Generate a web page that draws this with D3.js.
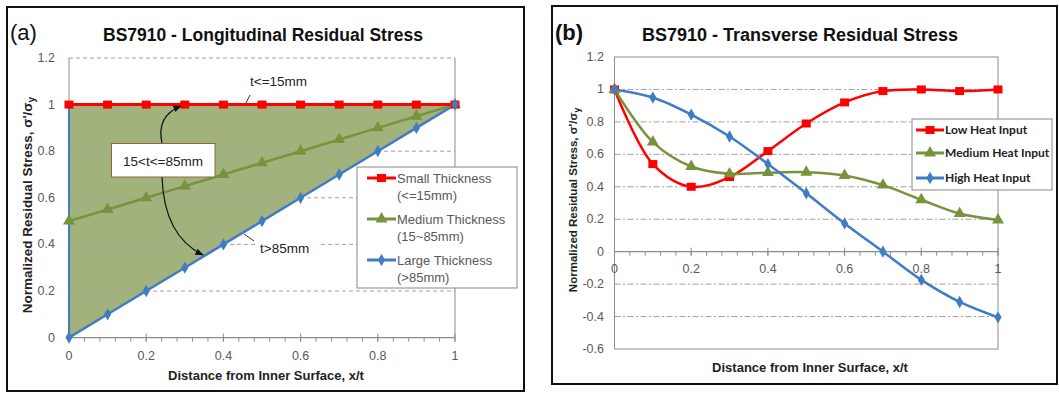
<!DOCTYPE html>
<html><head><meta charset="utf-8">
<script src="https://cdn.jsdelivr.net/npm/d3@7/dist/d3.min.js"></script>
<style>
body{margin:0;background:#fff;}
svg{display:block;font-family:"Liberation Sans",Arial,sans-serif;}
</style></head>
<body><svg id="c" width="1059" height="393"></svg>
<script>
// ---------- DATA ----------
const xValues = [0,0.1,0.2,0.3,0.4,0.5,0.6,0.7,0.8,0.9,1.0];
// Panel (a) longitudinal
const smallThickness  = [1,1,1,1,1,1,1,1,1,1,1];
const mediumThickness = [0.5,0.55,0.6,0.65,0.7,0.75,0.8,0.85,0.9,0.95,1.0];
const largeThickness  = [0,0.1,0.2,0.3,0.4,0.5,0.6,0.7,0.8,0.9,1.0];
// Panel (b) transverse
const lowHeat    = [1.0,0.54,0.40,0.46,0.62,0.79,0.92,0.99,1.0,0.99,1.0];
const mediumHeat = [1.0,0.675,0.525,0.48,0.487,0.49,0.47,0.41,0.32,0.235,0.195];
const highHeat   = [1.0,0.95,0.845,0.71,0.54,0.36,0.174,0.0,-0.174,-0.31,-0.405];
// Ticks
const xTickLabels = ["0","0.2","0.4","0.6","0.8","1"];
const xTickValues = [0,0.2,0.4,0.6,0.8,1];
const yTickLabelsA = ["0","0.2","0.4","0.6","0.8","1","1.2"];
const yTickValuesA = [0,0.2,0.4,0.6,0.8,1,1.2];
const yTickLabelsB = ["-0.6","-0.4","-0.2","0","0.2","0.4","0.6","0.8","1","1.2"];
const yTickValuesB = [-0.6,-0.4,-0.2,0,0.2,0.4,0.6,0.8,1,1.2];
const legendA = ["Small Thickness","(<=15mm)","Medium Thickness","(15~85mm)","Large Thickness","(>85mm)"];
const legendB = ["Low Heat Input","Medium Heat Input","High Heat Input"];

const RED="#ff0000", GREEN="#77933c", BLUE="#3f7cc4", FILL="#a2b27d", GRID="#a0a0a0", AXIS="#8c8c8c", TXT="#595959";
const svg = d3.select("#c");
const minorTicks = d3.range(0,1.0001,0.04);

// symbols
function marker(g, type, px, py, color){
  if(type==="square"){
    g.append("rect").attr("x",px-4.5).attr("y",py-4).attr("width",9).attr("height",8).attr("fill",color);
  } else if(type==="tri"){
    g.append("path").attr("d",d3.symbol(d3.symbolTriangle,62)()).attr("transform",`translate(${px},${py})`).attr("fill",color);
  } else {
    g.append("path").attr("d",d3.symbol(d3.symbolDiamond,44)()).attr("transform",`translate(${px},${py})`).attr("fill",color);
  }
}

// ---------- PANEL A ----------
(function(){
  const g = svg.append("g");
  g.append("rect").attr("x",7).attr("y",7).attr("width",517).attr("height",384).attr("fill","#fff").attr("stroke","#111").attr("stroke-width",2);
  const x = d3.scaleLinear().domain([0,1]).range([69,455]);
  const y = d3.scaleLinear().domain([0,1.2]).range([337.6,58]);
  // fill
  const area = d3.area().x((d,i)=>x(xValues[i])).y0((d,i)=>y(largeThickness[i])).y1((d,i)=>y(smallThickness[i]));
  g.append("path").datum(xValues).attr("d",area).attr("fill",FILL);
  // grid
  yTickValuesA.filter(v=>v>0).forEach(v=>{
    g.append("line").attr("x1",x(0)).attr("x2",x(1)).attr("y1",y(v)).attr("y2",y(v))
     .attr("stroke",GRID).attr("stroke-width",1).attr("stroke-dasharray","4,3");
  });
  // borders
  g.append("line").attr("x1",x(1)).attr("x2",x(1)).attr("y1",y(1.2)).attr("y2",y(0)).attr("stroke",AXIS).attr("stroke-width",1);
  g.append("line").attr("x1",x(0)).attr("x2",x(0)).attr("y1",y(1.2)).attr("y2",y(1)).attr("stroke",AXIS).attr("stroke-width",1);
  // x axis
  g.append("line").attr("x1",x(0)).attr("x2",x(1)).attr("y1",y(0)).attr("y2",y(0)).attr("stroke",AXIS).attr("stroke-width",1.2);
  minorTicks.forEach(v=>{
    g.append("line").attr("x1",x(v)).attr("x2",x(v)).attr("y1",y(0)).attr("y2",y(0)+4).attr("stroke",AXIS);
  });
  xTickValues.forEach(v=>{
    g.append("line").attr("x1",x(v)).attr("x2",x(v)).attr("y1",y(0)-4).attr("y2",y(0)+4).attr("stroke",AXIS);
  });
  xTickValues.forEach((v,i)=>{
    g.append("text").attr("x",x(v)).attr("y",360).attr("text-anchor","middle").attr("font-size",12.5).attr("fill",TXT).text(xTickLabels[i]);
  });
  yTickValuesA.forEach((v,i)=>{
    g.append("text").attr("x",55).attr("y",y(v)+4).attr("text-anchor","end").attr("font-size",12.5).attr("fill",TXT).text(yTickLabelsA[i]);
  });
  // blue left edge
  g.append("line").attr("x1",x(0)).attr("x2",x(0)).attr("y1",y(0)).attr("y2",y(1)).attr("stroke",BLUE).attr("stroke-width",2);
  // lines
  const line = arr => d3.line().x((d,i)=>x(xValues[i])).y((d,i)=>y(arr[i]))(xValues);
  g.append("path").attr("d",line(mediumThickness)).attr("fill","none").attr("stroke",GREEN).attr("stroke-width",2.5);
  g.append("path").attr("d",line(largeThickness)).attr("fill","none").attr("stroke",BLUE).attr("stroke-width",2.5);
  g.append("path").attr("d",line(smallThickness)).attr("fill","none").attr("stroke",RED).attr("stroke-width",3);
  xValues.forEach((v,i)=>marker(g,"tri",x(v),y(mediumThickness[i]),GREEN));
  xValues.forEach((v,i)=>marker(g,"square",x(v),y(smallThickness[i]),RED));
  xValues.forEach((v,i)=>marker(g,"diamond",x(v),y(largeThickness[i]),BLUE));
  // annotations
  const defs = svg.append("defs");
  defs.append("marker").attr("id","ah").attr("viewBox","0 0 10 10").attr("refX",9).attr("refY",5)
    .attr("markerWidth",7).attr("markerHeight",7).attr("orient","auto")
    .append("path").attr("d","M0,1 L10,5 L0,9 Z").attr("fill","#111");
  g.append("text").attr("x",250).attr("y",86).attr("font-size",13.5).attr("fill","#222").text("t<=15mm");
  g.append("line").attr("x1",250).attr("y1",95).attr("x2",246).attr("y2",103).attr("stroke","#333");
  g.append("path").attr("d","M162,143 Q156,116 181,106").attr("fill","none").attr("stroke","#111").attr("stroke-width",1.2).attr("marker-end","url(#ah)");
  g.append("path").attr("d","M162,177 Q164,236 203,255").attr("fill","none").attr("stroke","#111").attr("stroke-width",1.2).attr("marker-end","url(#ah)");
  g.append("rect").attr("x",111.5).attr("y",143.5).attr("width",103.5).attr("height",33.5).attr("fill","#fff").attr("stroke","#8a6a3a").attr("stroke-width",1);
  g.append("text").attr("x",163).attr("y",166).attr("text-anchor","middle").attr("font-size",13.5).attr("fill","#222").text("15<t<=85mm");
  g.append("rect").attr("x",257).attr("y",240).attr("width",62).attr("height",16).attr("fill","#fff");
  g.append("text").attr("x",260).attr("y",253).attr("font-size",13.5).attr("fill","#222").text("t>85mm");
  g.append("line").attr("x1",244).attr("y1",234).attr("x2",254).attr("y2",241).attr("stroke","#333");
  // legend
  const lg = g.append("g");
  lg.append("rect").attr("x",357).attr("y",167).attr("width",160).attr("height",121).attr("fill","#fff").attr("stroke","#888");
  const cols=[RED,GREEN,BLUE], types=["square","tri","diamond"], ly=[178,219,260];
  for(let k=0;k<3;k++){
    lg.append("line").attr("x1",367).attr("x2",396).attr("y1",ly[k]).attr("y2",ly[k]).attr("stroke",cols[k]).attr("stroke-width",3);
    marker(lg,types[k],381.5,ly[k],cols[k]);
    lg.append("text").attr("x",397).attr("y",ly[k]+5).attr("font-size",13).attr("fill",TXT).text(legendA[2*k]);
    lg.append("text").attr("x",397).attr("y",ly[k]+22).attr("font-size",13).attr("fill",TXT).text(legendA[2*k+1]);
  }
  // titles
  g.append("text").attr("x",263).attr("y",41).attr("text-anchor","middle").attr("font-size",17.5).attr("font-weight","bold").attr("fill","#111").text("BS7910 - Longitudinal Residual Stress");
  g.append("text").attr("x",10).attr("y",40).attr("font-size",22).attr("fill","#111").text("(a)");
  g.append("text").attr("x",266).attr("y",380).attr("text-anchor","middle").attr("font-size",13).attr("font-weight","bold").attr("fill","#222").text("Distance from Inner Surface, x/t");
  const yl = g.append("text").attr("transform","translate(32,205) rotate(-90)").attr("text-anchor","middle").attr("font-size",13.5).attr("font-weight","bold").attr("fill","#222");
  yl.append("tspan").text("Normalized Residual Stress, σ'/σ");
  yl.append("tspan").attr("font-size",10).attr("dy",3).text("y");
})();

// ---------- PANEL B ----------
(function(){
  const g = svg.append("g");
  g.append("rect").attr("x",552).attr("y",6).attr("width",505).attr("height",378).attr("fill","#fff").attr("stroke","#111").attr("stroke-width",2);
  const x = d3.scaleLinear().domain([0,1]).range([614.5,998]);
  const y = d3.scaleLinear().domain([-0.6,1.2]).range([349,57]);
  // grid
  yTickValuesB.filter(v=>v!==0 && v!==1.2 && v!==-0.6).forEach(v=>{
    g.append("line").attr("x1",x(0)).attr("x2",x(1)).attr("y1",y(v)).attr("y2",y(v))
     .attr("stroke",GRID).attr("stroke-width",1).attr("stroke-dasharray","6,2.5,2,2.5");
  });
  g.append("rect").attr("x",x(0)).attr("y",y(1.2)).attr("width",x(1)-x(0)).attr("height",y(-0.6)-y(1.2)).attr("fill","none").attr("stroke",AXIS).attr("stroke-width",1);
  // x axis at 0
  g.append("line").attr("x1",x(0)).attr("x2",x(1)).attr("y1",y(0)).attr("y2",y(0)).attr("stroke",AXIS).attr("stroke-width",1.2);
  minorTicks.forEach(v=>{
    g.append("line").attr("x1",x(v)).attr("x2",x(v)).attr("y1",y(0)).attr("y2",y(0)+4).attr("stroke",AXIS);
  });
  xTickValues.forEach(v=>{
    g.append("line").attr("x1",x(v)).attr("x2",x(v)).attr("y1",y(0)-4).attr("y2",y(0)+4).attr("stroke",AXIS);
  });
  xTickValues.forEach((v,i)=>{
    g.append("text").attr("x",x(v)).attr("y",273).attr("text-anchor","middle").attr("font-size",12.5).attr("fill",TXT).text(xTickLabels[i]);
  });
  yTickValuesB.forEach((v,i)=>{
    g.append("text").attr("x",604).attr("y",y(v)+4).attr("text-anchor","end").attr("font-size",12.5).attr("fill",TXT).text(yTickLabelsB[i]);
  });
  const line = arr => d3.line().curve(d3.curveCatmullRom.alpha(0.5)).x((d,i)=>x(xValues[i])).y((d,i)=>y(arr[i]))(xValues);
  g.append("path").attr("d",line(lowHeat)).attr("fill","none").attr("stroke",RED).attr("stroke-width",2.5);
  g.append("path").attr("d",line(mediumHeat)).attr("fill","none").attr("stroke",GREEN).attr("stroke-width",2.5);
  g.append("path").attr("d",line(highHeat)).attr("fill","none").attr("stroke",BLUE).attr("stroke-width",2.5);
  xValues.forEach((v,i)=>marker(g,"square",x(v),y(lowHeat[i]),RED));
  xValues.forEach((v,i)=>marker(g,"tri",x(v),y(mediumHeat[i]),GREEN));
  xValues.forEach((v,i)=>marker(g,"diamond",x(v),y(highHeat[i]),BLUE));
  // legend
  const lg = g.append("g");
  lg.append("rect").attr("x",912).attr("y",119).attr("width",140).attr("height",71).attr("fill","#fff").attr("stroke","#888");
  const cols=[RED,GREEN,BLUE], types=["square","tri","diamond"], ly=[130,153,178];
  for(let k=0;k<3;k++){
    lg.append("line").attr("x1",916).attr("x2",944).attr("y1",ly[k]).attr("y2",ly[k]).attr("stroke",cols[k]).attr("stroke-width",3);
    marker(lg,types[k],930,ly[k],cols[k]);
    lg.append("text").attr("x",945).attr("y",ly[k]+4).attr("font-size",12).attr("font-weight","bold").attr("fill","#222").attr("font-family","Lato, 'Open Sans', sans-serif").text(legendB[k]);
  }
  g.append("text").attr("x",800).attr("y",41).attr("text-anchor","middle").attr("font-size",18).attr("font-weight","bold").attr("fill","#111").text("BS7910 - Transverse Residual Stress");
  g.append("text").attr("x",555).attr("y",40).attr("font-size",22).attr("font-weight","bold").attr("fill","#111").text("(b)");
  g.append("text").attr("x",810).attr("y",372).attr("text-anchor","middle").attr("font-size",13).attr("font-weight","bold").attr("fill","#222").text("Distance from Inner Surface, x/t");
  const yl = g.append("text").attr("transform","translate(577,200) rotate(-90)").attr("text-anchor","middle").attr("font-size",11.5).attr("font-weight","bold").attr("fill","#222");
  yl.append("tspan").text("Normalized Residual Stress, σ'/σ");
  yl.append("tspan").attr("font-size",8.5).attr("dy",3).text("y");
})();
</script></body></html>
